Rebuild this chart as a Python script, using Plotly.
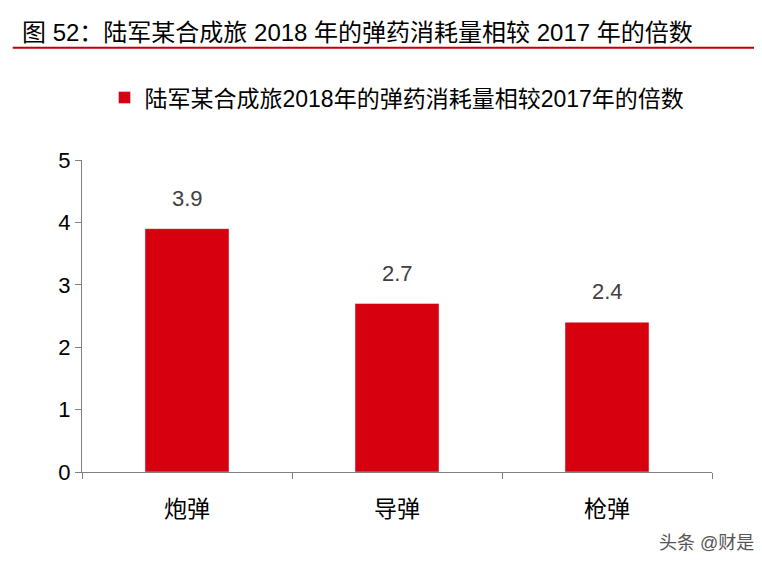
import plotly.graph_objects as go

categories = ['炮弹', '导弹', '枪弹']
values = [3.9, 2.7, 2.4]
series_name = '陆军某合成旅2018年的弹药消耗量相较2017年的倍数'
title_text = '图 52：陆军某合成旅 2018 年的弹药消耗量相较 2017 年的倍数'

font = 'Liberation Sans, Noto Sans CJK SC'

fig = go.Figure()
fig.add_trace(go.Bar(
    x=categories, y=values, name=series_name,
    marker_color='#D7000F', width=0.4,
))

fig.update_layout(
    width=762, height=566,
    margin=dict(l=74, r=58, t=152, b=102),
    plot_bgcolor='white', paper_bgcolor='white',
    font=dict(family=font, color='black', size=22),
    showlegend=True,
    legend=dict(orientation='h', x=0.5, xanchor='center', y=1.2, yanchor='middle',
                font=dict(size=23, color='black')),
)
fig.update_yaxes(range=[0, 5], dtick=1, showgrid=False, showline=True,
                 linecolor='#808080', ticks='outside', ticklen=6, tickcolor='#808080',
                 tickfont=dict(size=22))
fig.update_xaxes(showline=True, linecolor='#808080', ticks='outside', ticklen=6,
                 tickcolor='#808080', tickson='boundaries', tickfont=dict(size=23),
                 ticklabelstandoff=16)

# value labels, raised above bars
for c, v in zip(categories, values):
    fig.add_annotation(x=c, y=v, text=f'{v:.1f}', showarrow=False, yanchor='bottom',
                       yshift=16, font=dict(size=22, color='#404040'))

# header
fig.add_annotation(text=title_text, xref='paper', yref='paper',
                   x=-0.098, y=1.0, xanchor='left', yanchor='bottom', yshift=112,
                   showarrow=False, font=dict(size=24, color='black'))
fig.add_shape(type='line', xref='paper', yref='paper', x0=-0.11, x1=1.08,
              y0=1.36, y1=1.36, line=dict(color='#C00000', width=2))
fig.add_annotation(text='头条 @财是', xref='paper', yref='paper', x=1.07, y=-0.19,
                   xanchor='right', yanchor='top', showarrow=False,
                   font=dict(size=18, color='#555555'))

fig.write_html('out.html')
